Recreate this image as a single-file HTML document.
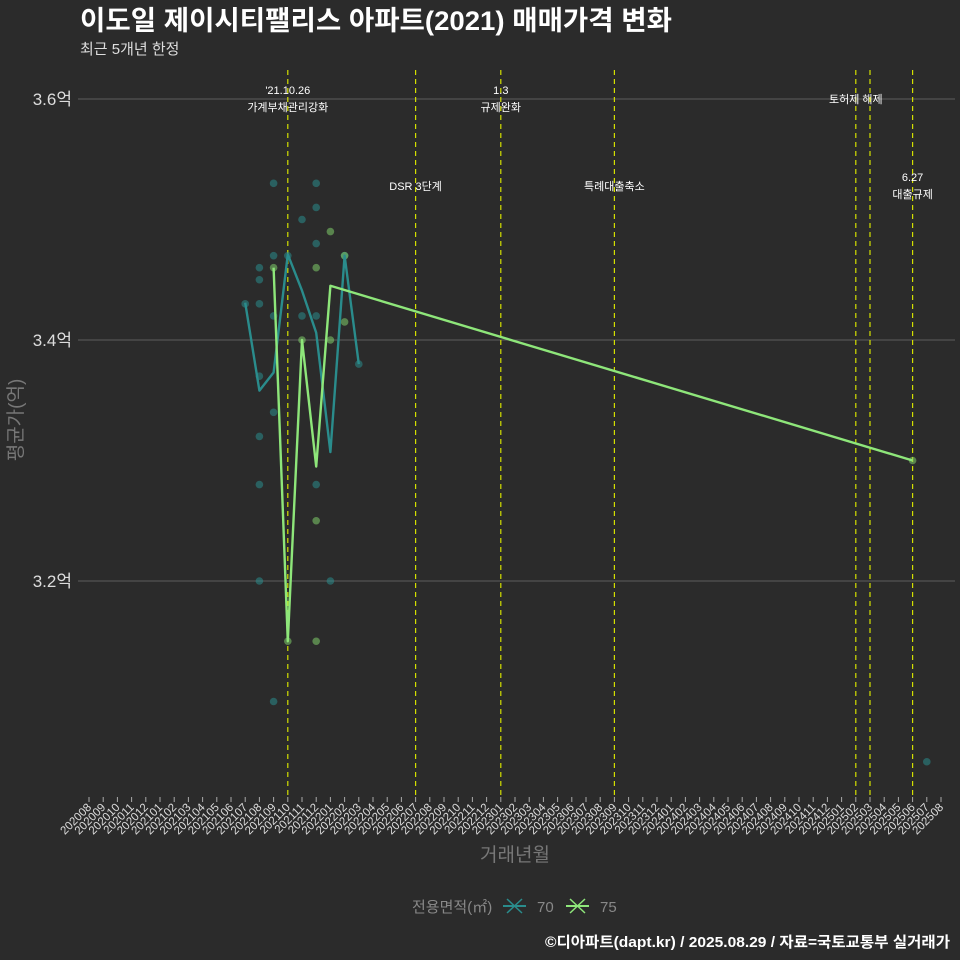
<!DOCTYPE html>
<html><head><meta charset="utf-8"><style>
html,body{margin:0;padding:0;background:#2b2b2b;}
svg{display:block;font-family:"Liberation Sans","Noto Sans CJK KR",sans-serif;}
</style></head><body>
<svg id="chart" width="960" height="960" viewBox="0 0 960 960" xmlns="http://www.w3.org/2000/svg">
<rect width="960" height="960" fill="#2b2b2b"/>
<text x="80" y="30" font-size="27" font-weight="bold" fill="#ffffff" textLength="592" lengthAdjust="spacingAndGlyphs">이도일 제이시티팰리스 아파트(2021) 매매가격 변화</text>
<text x="80" y="54" font-size="15" fill="#dddddd">최근 5개년 한정</text>
<g id="grid"></g><g id="events"></g><g id="series"></g><g id="axes"></g>
<text transform="translate(22,420) rotate(-90)" text-anchor="middle" font-size="19" fill="#777">평균가(억)</text>
<text x="515" y="861" text-anchor="middle" font-size="19" fill="#777">거래년월</text>
<g>
<text x="412" y="912" font-size="15" fill="#888">전용면적(㎡)</text>
<g><line x1="503" y1="906" x2="526" y2="906" stroke="#2a8c8c" stroke-width="2"/><line x1="507" y1="899" x2="522" y2="913" stroke="#2a8c8c" stroke-width="1.5"/><line x1="507" y1="913" x2="522" y2="899" stroke="#2a8c8c" stroke-width="1.5"/><text x="537" y="912" font-size="15" fill="#888">70</text></g>
<g><line x1="566" y1="906" x2="589" y2="906" stroke="#8ee67a" stroke-width="2"/><line x1="570" y1="899" x2="585" y2="913" stroke="#8ee67a" stroke-width="1.5"/><line x1="570" y1="913" x2="585" y2="899" stroke="#8ee67a" stroke-width="1.5"/><text x="600" y="912" font-size="15" fill="#888">75</text></g>
</g>
<text x="950" y="947" text-anchor="end" font-size="15" font-weight="bold" fill="#ffffff" textLength="405" lengthAdjust="spacingAndGlyphs">©디아파트(dapt.kr) / 2025.08.29 / 자료=국토교통부 실거래가</text>
</svg>
<script>
const yTicks=[3.2,3.4,3.6];
const yTickLabels=["3.2억","3.4억","3.6억"];
const line70Months=["202107","202108","202109","202110","202111","202112","202201","202202","202203"];
const line70Values=[3.431,3.358,3.373,3.471,3.441,3.406,3.307,3.470,3.380];
const line75Months=["202109","202110","202111","202112","202201","202506"];
const line75Values=[3.460,3.150,3.400,3.295,3.445,3.300];
const pts70Months=["202109","202112","202112","202111","202112","202109","202108","202108","202107","202108","202109","202111","202112","202108","202109","202108","202108","202112","202108","202201","202109","202507","202110","202202","202203"];
const pts70Values=[3.53,3.53,3.51,3.50,3.48,3.47,3.46,3.45,3.43,3.43,3.42,3.42,3.42,3.37,3.34,3.32,3.28,3.28,3.20,3.20,3.10,3.05,3.47,3.47,3.38];
const pts75Months=["202201","202112","202109","202111","202201","202202","202112","202110","202112","202506","202202"];
const pts75Values=[3.49,3.46,3.46,3.40,3.40,3.415,3.25,3.15,3.15,3.30,3.47];
const eventMonths=["202110","202207","202301","202309","202502","202503","202506"];
const eventLabels=[["'21.10.26","가계부채관리강화"],["DSR 3단계"],["1.3","규제완화"],["특례대출축소"],["토허제 해제"],[],["6.27","대출규제"]];
const eventLabelY=[94,190,94,190,103,0,181];
const NS="http://www.w3.org/2000/svg";
function idx(m){const y=+m.slice(0,4),mo=+m.slice(4);return (y-2020)*12+mo-8;}
function X(m){return 89+idx(m)*14.2;}
function Y(v){return 340-(v-3.4)*1205;}
function mk(tag,attrs,parent,txt){const e=document.createElementNS(NS,tag);for(const k in attrs)e.setAttribute(k,attrs[k]);if(txt!==undefined)e.textContent=txt;parent.appendChild(e);return e;}
const grid=document.getElementById('grid'),axes=document.getElementById('axes'),ev=document.getElementById('events'),ser=document.getElementById('series');
yTicks.forEach((t,i)=>{
 const l=mk('line',{x1:78,x2:955,y1:Y(t),y2:Y(t),stroke:'#5e5e5e','stroke-width':1},grid);
 
 
 const tx=mk('text',{x:72,y:Y(t)+6,'text-anchor':'end','font-size':17,fill:'#dddddd'},axes,yTickLabels[i]);
 
 
});
for(let i=0;i<=60;i++){
 const y=2020+Math.floor((7+i)/12),mo=(7+i)%12+1;
 const lab=""+y+(mo<10?"0":"")+mo;
 const x=89+i*14.2;
 mk('line',{x1:x,x2:x,y1:797,y2:802,stroke:'#aaa','stroke-width':1},axes);
 const t=mk('text',{transform:`translate(${x+3},808) rotate(-45)`,'text-anchor':'end','font-size':11.5,fill:'#dddddd'},axes,lab);
 
 
}
eventMonths.forEach((m,i)=>{
 const x=X(m);
 const l=mk('line',{x1:x,x2:x,y1:70,y2:795,stroke:'#d4e000','stroke-width':1.2,'stroke-dasharray':'5,4'},ev);
 
 
 eventLabels[i].forEach((s,j)=>{
  const t=mk('text',{x:x,y:eventLabelY[i]+j*17,'text-anchor':'middle','font-size':11,fill:'#ffffff'},ev,s);
  
  
 });
});
function pts(ms,vs,color,name){ms.forEach((m,i)=>{const c=mk('circle',{cx:X(m),cy:Y(vs[i]),r:3.8,fill:color,'fill-opacity':0.55},ser);});}
function line(ms,vs,color,name){const p=mk('polyline',{points:ms.map((m,i)=>X(m)+','+Y(vs[i])).join(' '),fill:'none',stroke:color,'stroke-width':2.4,'stroke-linejoin':'round'},ser);}
pts(pts70Months,pts70Values,'#2a8c8c','point-70');
pts(pts75Months,pts75Values,'#7fce6a','point-75');
line(line70Months,line70Values,'#2a8c8c','line-70');
line(line75Months,line75Values,'#8ee67a','line-75');
</script>
</body></html>
